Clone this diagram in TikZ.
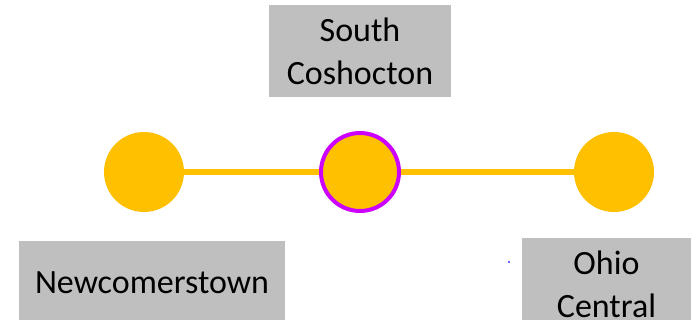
\documentclass[tikz,border=0pt]{standalone}
\usepackage{fontspec}
\setmainfont{Carlito}
\definecolor{stgold}{HTML}{FFC000}
\definecolor{stpurple}{HTML}{CC00FF}
\definecolor{stgray}{HTML}{BFBFBF}
\definecolor{stblue}{HTML}{3333FF}

\begin{document}
\begin{tikzpicture}[x=0.75pt, y=-0.75pt,
  stop/.style={circle, fill=stgold, minimum size=60pt, inner sep=0pt},
  labelbox/.style={fill=stgray, align=center, inner sep=0pt, font=\fontsize{25.5}{32}\selectfont},
  track/.style={draw=stgold, line width=5pt}]
  \clip (0,0) rectangle (697,320);
  % station labels
  \node[labelbox, minimum width=136.5pt, minimum height=69pt] (southlbl) at (360,51) {South\\Coshocton};
  \node[labelbox, minimum width=199.5pt, minimum height=63pt] (newlbl) at (152,283) {Newcomerstown};
  \node[labelbox, minimum width=126.75pt, minimum height=69pt] (ohiolbl) at (606.5,284) {Ohio\\Central};
  % stations
  \node[stop] (newstop) at (144,172) {};
  \node[stop, draw=stpurple, line width=3pt, minimum size=58.5pt] (southstop) at (360,172) {};
  \node[stop] (ohiostop) at (614,172) {};
  % track
  \draw[track] (newstop.east) -- (southstop.west);
  \draw[track] (southstop.east) -- (ohiostop.west);
  \fill[stblue] (509,262) circle (0.8pt);
\end{tikzpicture}
\end{document}
